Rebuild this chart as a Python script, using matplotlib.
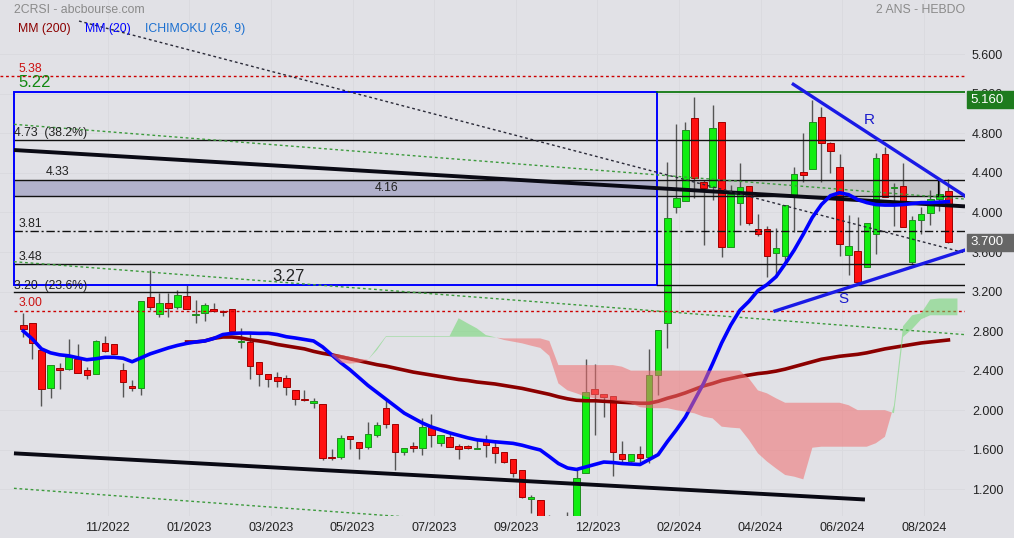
import numpy as np
import matplotlib
matplotlib.use('Agg')
import matplotlib.pyplot as plt
from matplotlib.patches import Rectangle
import matplotlib.transforms as mtransforms

plt.rcParams['font.family'] = ['Liberation Sans', 'DejaVu Sans']

# ---------------- data (weekly candles, index 0..102) ----------------
opens = [2.862, 2.879, 2.609, 2.221, 2.427, 2.413, 2.518, 2.403, 2.362, 2.676,
         2.666, 2.406, 2.244, 2.221, 3.142, 2.970, 3.081, 3.040, 3.155, 2.965,
         2.980, 3.020, 2.997, 3.020, 2.686, 2.693, 2.487, 2.362, 2.332, 2.325,
         2.204, 2.109, 2.069, 2.062, 1.522, 1.522, 1.738, 1.674, 1.623, 1.751,
         2.018, 1.859, 1.579, 1.628, 1.620, 1.825, 1.670, 1.731, 1.637, 1.637,
         1.603, 1.691, 1.630, 1.579, 1.502, 1.390, 1.104, 1.090, 0.880, 0.820,
         0.800, 0.880, 1.367, 2.210, 2.159, 2.146, 1.552, 1.488, 1.552, 1.522,
         2.352, 2.879, 4.051, 4.119, 4.953, 4.311, 4.261, 4.912, 3.647, 4.099,
         4.267, 3.829, 3.829, 3.586, 3.562, 4.153, 4.409, 4.436, 4.962, 4.699,
         4.456, 3.569, 3.610, 3.451, 3.782, 4.591, 4.245, 4.267, 3.502, 3.923,
         3.997, 4.133, 4.217]
highs = [2.980, 2.879, 2.609, 2.454, 2.474, 2.717, 2.666, 2.433, 2.710, 2.750,
         2.666, 2.474, 2.305, 3.101, 3.420, 3.182, 3.182, 3.216, 3.270, 3.115,
         3.081, 3.081, 3.013, 3.020, 2.828, 2.777, 2.487, 2.362, 2.389, 2.352,
         2.204, 2.204, 2.120, 2.062, 1.604, 1.748, 1.738, 1.674, 1.883, 1.879,
         2.102, 1.859, 1.616, 1.680, 1.917, 1.960, 1.745, 1.772, 1.657, 1.643,
         1.697, 1.745, 1.691, 1.579, 1.502, 1.390, 1.141, 1.090, 0.940, 0.900,
         0.970, 1.394, 2.514, 2.466, 2.159, 2.146, 1.687, 1.552, 1.640, 2.615,
         2.810, 4.510, 4.900, 4.920, 5.171, 4.330, 5.087, 4.912, 4.280, 4.497,
         4.267, 3.981, 3.863, 3.846, 4.075, 4.456, 4.800, 5.138, 5.070, 4.716,
         4.591, 3.974, 3.957, 3.890, 4.605, 4.665, 4.301, 4.503, 3.964, 4.058,
         4.227, 4.335, 4.335]
lows = [2.737, 2.521, 2.045, 2.126, 2.217, 2.406, 2.373, 2.312, 2.362, 2.592,
        2.565, 2.136, 2.197, 2.153, 3.013, 2.939, 2.946, 3.020, 3.020, 2.885,
        2.905, 2.993, 2.953, 2.771, 2.626, 2.319, 2.248, 2.238, 2.238, 2.153,
        2.055, 2.095, 2.025, 1.496, 1.496, 1.502, 1.603, 1.508, 1.603, 1.731,
        1.815, 1.394, 1.546, 1.579, 1.546, 1.630, 1.640, 1.630, 1.508, 1.603,
        1.603, 1.529, 1.468, 1.461, 1.326, 1.114, 0.962, 0.800, 0.760, 0.750,
        0.760, 0.850, 1.360, 1.748, 1.927, 1.336, 1.478, 1.478, 1.455, 1.461,
        2.153, 2.629, 3.991, 4.119, 4.143, 3.670, 4.126, 3.546, 3.647, 3.873,
        3.873, 3.761, 3.343, 3.350, 3.485, 3.805, 4.310, 4.436, 4.310, 4.396,
        3.562, 3.367, 3.293, 3.451, 3.579, 4.153, 3.866, 3.856, 3.475, 3.782,
        3.873, 4.014, 3.690]
closes = [2.818, 2.676, 2.211, 2.454, 2.410, 2.541, 2.373, 2.352, 2.696, 2.602,
          2.565, 2.281, 2.221, 3.101, 3.040, 3.081, 3.037, 3.162, 3.027, 2.975,
          3.064, 3.000, 2.990, 2.804, 2.700, 2.450, 2.362, 2.312, 2.292, 2.231,
          2.116, 2.099, 2.089, 1.519, 1.512, 1.714, 1.704, 1.620, 1.755, 1.846,
          1.859, 1.579, 1.616, 1.622, 1.825, 1.751, 1.745, 1.630, 1.603, 1.620,
          1.613, 1.650, 1.569, 1.478, 1.360, 1.124, 1.117, 0.850, 0.800, 0.800,
          0.880, 1.309, 2.183, 2.159, 2.129, 1.579, 1.502, 1.552, 1.519, 2.352,
          2.810, 3.940, 4.142, 4.834, 4.346, 4.244, 4.851, 3.647, 4.184, 4.254,
          3.890, 3.778, 3.562, 3.636, 4.075, 4.385, 4.382, 4.912, 4.699, 4.625,
          3.681, 3.660, 3.293, 3.890, 4.547, 4.153, 4.255, 3.856, 3.923, 3.984,
          4.136, 4.186, 3.704]

ma20 = [2.80, 2.72, 2.62, 2.58, 2.56, 2.55, 2.53, 2.51, 2.52, 2.535,
        2.535, 2.525, 2.49, 2.53, 2.57, 2.60, 2.63, 2.655, 2.675, 2.69,
        2.70, 2.725, 2.765, 2.777, 2.78, 2.78, 2.777, 2.777, 2.765, 2.743,
        2.73, 2.715, 2.70, 2.64, 2.56, 2.48, 2.41, 2.33, 2.25, 2.18,
        2.11, 2.04, 1.97, 1.92, 1.87, 1.83, 1.80, 1.77, 1.745, 1.72,
        1.70, 1.69, 1.68, 1.672, 1.664, 1.645, 1.62, 1.597, 1.53, 1.46,
        1.415, 1.40, 1.425, 1.45, 1.475, 1.47, 1.46, 1.455, 1.45, 1.50,
        1.55, 1.68, 1.80, 1.93, 2.10, 2.27, 2.47, 2.68, 2.86, 3.01,
        3.10, 3.21, 3.27, 3.35, 3.48, 3.62, 3.78, 3.95, 4.08, 4.17,
        4.20, 4.18, 4.13, 4.10, 4.08, 4.075, 4.075, 4.08, 4.09, 4.10,
        4.10, 4.105, 4.11]

ma200_start = 18
ma200 = [2.69, 2.69, 2.70, 2.727, 2.74, 2.74, 2.73, 2.712, 2.70, 2.685,
         2.665, 2.65, 2.635, 2.62, 2.595, 2.575, 2.56, 2.54, 2.52, 2.50,
         2.48, 2.46, 2.445, 2.425, 2.405, 2.385, 2.37, 2.355, 2.34, 2.325,
         2.31, 2.30, 2.285, 2.275, 2.265, 2.25, 2.235, 2.22, 2.20, 2.18,
         2.16, 2.135, 2.115, 2.10, 2.095, 2.095, 2.09, 2.085, 2.08, 2.075,
         2.07, 2.07, 2.09, 2.12, 2.145, 2.175, 2.21, 2.245, 2.27, 2.30,
         2.32, 2.34, 2.355, 2.37, 2.38, 2.395, 2.415, 2.44, 2.465, 2.49,
         2.515, 2.53, 2.545, 2.555, 2.565, 2.58, 2.60, 2.62, 2.635, 2.65,
         2.665, 2.68, 2.69, 2.70, 2.71]

cloud_start = 34
senkou_a = [2.55, 2.48, 2.47, 2.48, 2.51, 2.63, 2.75, 2.75, 2.75, 2.75,
            2.75, 2.75, 2.75, 2.75, 2.93, 2.878, 2.828, 2.76, 2.738, 2.71,
            2.693, 2.676, 2.652, 2.63, 2.55, 2.27, 2.20, 2.17, 2.136, 2.12,
            2.11, 2.10, 2.085, 2.068, 2.03, 2.02, 2.02, 2.02, 2.00, 1.985,
            1.968, 1.934, 1.917, 1.833, 1.823, 1.816, 1.70, 1.563, 1.48, 1.41,
            1.344, 1.327, 1.30, 1.62, 1.63, 1.63, 1.63, 1.63, 1.63, 1.63,
            1.665, 1.73, 2.05, 2.85, 2.96, 2.98, 3.12, 3.13, 3.13, 3.13]
senkou_b = [2.57, 2.56, 2.54, 2.52, 2.51, 2.61, 2.743, 2.743, 2.743, 2.743,
            2.743, 2.743, 2.743, 2.743, 2.743, 2.743, 2.743, 2.743, 2.735, 2.726,
            2.726, 2.726, 2.726, 2.726, 2.70, 2.456, 2.456, 2.456, 2.456, 2.456,
            2.456, 2.456, 2.44, 2.40, 2.40, 2.40, 2.40, 2.40, 2.40, 2.40,
            2.40, 2.40, 2.40, 2.40, 2.40, 2.40, 2.322, 2.20, 2.17, 2.12,
            2.075, 2.075, 2.075, 2.075, 2.075, 2.075, 2.075, 2.05, 2.00, 2.00,
            2.00, 2.00, 1.97, 2.74, 2.82, 2.92, 2.96, 2.96, 2.96, 2.96]

x_tick_pos = [9.3, 18.3, 27.3, 36.3, 45.3, 54.3, 63.3, 72.3, 81.3, 90.3, 99.3]
x_tick_labels = ['11/2022', '01/2023', '03/2023', '05/2023', '07/2023', '09/2023',
                 '12/2023', '02/2024', '04/2024', '06/2024', '08/2024']
y_ticks = [1.2, 1.6, 2.0, 2.4, 2.8, 3.2, 3.6, 4.0, 4.4, 4.8, 5.2, 5.6]

# levels drawn by the chart author
box_left, box_right = -1.03, 69.87        # blue retracement box (index units)
box_low, box_high = 3.27, 5.22
band_low, band_high = 4.164, 4.33
band_end = 100.85
level_lines = [4.73, 4.33, 4.164, 3.48, 3.20]
dashdot_level = 3.81
red_levels = [5.38, 3.00]

# trend lines: (index0, value0, index1, value1)
thick_black_lines = [(-1.03, 4.632, 103.83, 4.062), (-1.03, 1.563, 92.8, 1.096)]
black_dotted_line = (6.14, 5.937, 103.83, 3.591)
green_dotted_lines = [(-1.03, 4.892, 103.83, 4.136), (-1.03, 3.502, 103.83, 2.764),
                      (-1.03, 1.209, 103.83, 0.507)]
blue_lines = [(84.9, 5.297, 103.83, 4.167), (82.88, 3.003, 103.83, 3.620)]

last_price = 3.70
high_label = 5.16

# ---------------- figure ----------------
BG = '#e1e1e6'
W, H = 1014, 538
fig = plt.figure(figsize=(W / 100, H / 100), dpi=100, facecolor=BG)
ax = fig.add_axes([0, 22 / H, 965 / W, 516 / H])
ax.set_facecolor(BG)
for s in ax.spines.values():
    s.set_visible(False)

n = len(closes)
idx = np.arange(n)
ax.set_xlim(-2.569, 103.83)
ax.set_ylim(0.929, 6.150)

# faint grid
for xp in x_tick_pos:
    ax.axvline(xp, color='#dadadf', lw=0.7, zorder=0.5)
for yv in y_ticks:
    ax.axhline(yv, color='#dadadf', lw=0.7, zorder=0.5)

# band
ax.fill_between([box_left, box_right], band_low, band_high, color='#b1b1cb', lw=0, zorder=1)
ax.fill_between([box_right, band_end], band_low, band_high, color='#c4c4c7', lw=0, zorder=1)
ax.plot([band_end, band_end], [band_low, band_high], color='black', lw=0.9, zorder=6)

# horizontal levels
xr = 103.83
for lv in level_lines:
    ax.plot([box_left, xr], [lv, lv], color='#111111', lw=1.0, zorder=6)
ax.plot([box_left, xr], [dashdot_level] * 2, color='#111111', lw=1.0,
        linestyle=(0, (6, 2, 1.5, 2)), zorder=6)
ax.plot([-2.569, xr], [red_levels[0]] * 2, color='#cc0000', lw=1.0, linestyle=(0, (2, 2)), zorder=6)
ax.plot([box_left, xr], [red_levels[1]] * 2, color='#cc0000', lw=1.0, linestyle=(0, (2, 2)), zorder=6)
ax.add_patch(Rectangle((box_left, box_low), box_right - box_left, box_high - box_low,
                       fill=False, ec='#0000ff', lw=1.4, zorder=6))
ax.plot([box_right, xr], [box_high] * 2, color='#007000', lw=1.2, zorder=6)
ax.plot([box_right, xr], [box_low] * 2, color='#111111', lw=1.0, zorder=6)

# candles
up_face, up_edge = '#11ee11', '#1f8f1f'
dn_face, dn_edge = '#ff1010', '#a00000'
for i in range(n):
    o, h, l, c = opens[i], highs[i], lows[i], closes[i]
    ax.plot([i, i], [l, h], color='#555555', lw=1.0, zorder=3, solid_capstyle='butt')
    up = c >= o
    bot = min(o, c)
    ht = max(abs(c - o), 0.012)
    ax.bar(i, ht, bottom=bot, width=0.72, color=up_face if up else dn_face,
           edgecolor=up_edge if up else dn_edge, linewidth=0.7, zorder=4)

# trend lines
for (x0, y0, x1, y1) in thick_black_lines:
    ax.plot([x0, x1], [y0, y1], color='#0a0a14', lw=2.8, zorder=7, solid_capstyle='butt')
x0, y0, x1, y1 = black_dotted_line
ax.plot([x0, x1], [y0, y1], color='#2a2a38', lw=1.0, linestyle=(0, (2, 2)), zorder=7)
for (x0, y0, x1, y1) in green_dotted_lines:
    ax.plot([x0, x1], [y0, y1], color='#3c9a3c', lw=1.0, linestyle=(0, (2, 2)), zorder=7)
for (x0, y0, x1, y1) in blue_lines:
    ax.plot([x0, x1], [y0, y1], color='#1a1ae6', lw=2.4, zorder=7)

# moving averages
ax.plot(idx[ma200_start:ma200_start + len(ma200)], ma200, color='#8b0000', lw=2.6, zorder=8)
ax.plot(idx, ma20, color='#0000ff', lw=2.6, zorder=9)

# ichimoku cloud
cx = np.arange(cloud_start, cloud_start + len(senkou_a))
sa = np.array(senkou_a)
sb = np.array(senkou_b)
ax.fill_between(cx, sa, sb, where=sa >= sb, interpolate=True, color='#6ed76e',
                alpha=0.55, lw=0, zorder=10)
ax.fill_between(cx, sa, sb, where=sa < sb, interpolate=True, color='#f06e6e',
                alpha=0.55, lw=0, zorder=10)

# level labels
txt = dict(zorder=12, fontsize=8.8, color='#222222')
ax.text(-0.58, 5.395, '5.38', va='bottom', ha='left', **{**txt, 'color': '#cc1111'})
ax.text(-0.58, 5.235, '5.22', va='bottom', ha='left', **{**txt, 'color': '#118811', 'fontsize': 12})
ax.text(-1.03, 4.742, '4.73  (38.2%)', va='bottom', ha='left', **txt)
ax.text(2.5, 4.345, '4.33', va='bottom', ha='left', **txt)
ax.text(38.8, 4.247, '4.16', va='center', ha='left', **txt)
ax.text(-0.47, 3.822, '3.81', va='bottom', ha='left', **txt)
ax.text(-0.47, 3.492, '3.48', va='bottom', ha='left', **txt)
ax.text(27.5, 3.28, '3.27', va='bottom', ha='left', **{**txt, 'fontsize': 12})
ax.text(-1.03, 3.20, '3.20  (23.6%)', va='bottom', ha='left', **txt)
ax.text(-0.47, 3.02, '3.00', va='bottom', ha='left', **{**txt, 'color': '#cc1111'})
ax.text(93.3, 4.935, 'R', va='center', ha='center', fontsize=11, color='#1a1acc', zorder=12)
ax.text(90.4, 3.125, 'S', va='center', ha='center', fontsize=11, color='#1a1acc', zorder=12)

# axes ticks
ax.yaxis.tick_right()
ax.set_yticks(y_ticks)
ax.set_yticklabels([f'{v:.3f}' for v in y_ticks])
ax.set_xticks(x_tick_pos)
ax.set_xticklabels(x_tick_labels)
ax.tick_params(axis='both', length=0, labelsize=9, colors='#222222')
ax.tick_params(axis='y', pad=5)
ax.tick_params(axis='x', pad=4)

# price boxes on the right axis (the box is shifted a little below its value, as in the source)
trans = mtransforms.blended_transform_factory(ax.transAxes, ax.transData)
for val, col, shift in [(high_label, '#1e7b1e', -0.02), (last_price, '#666666', 0.0)]:
    ax.add_patch(Rectangle((1.002, val + shift - 0.085), 0.06, 0.17, transform=trans,
                           color=col, clip_on=False, zorder=20))
    ax.text(1.006, val + shift, f'{val:.3f}', transform=trans, va='center', ha='left',
            color='white', fontsize=9.5, clip_on=False, zorder=21)

# header texts
fig.text(14 / W, 1 - 10 / H, '2CRSI - abcbourse.com', color='#8a8a8a', fontsize=8.8, va='center')
fig.text(965 / W, 1 - 10 / H, '2 ANS - HEBDO', color='#8a8a8a', fontsize=8.8, va='center', ha='right')
fig.text(18 / W, 1 - 29 / H, 'MM (200)', color='#8b0000', fontsize=8.8, va='center')
fig.text(85 / W, 1 - 29 / H, 'MM (20)', color='#0000ff', fontsize=8.8, va='center')
fig.text(145 / W, 1 - 29 / H, 'ICHIMOKU (26, 9)', color='#1a6fd0', fontsize=8.8, va='center')

fig.savefig('out.png', dpi=100, facecolor=BG)
